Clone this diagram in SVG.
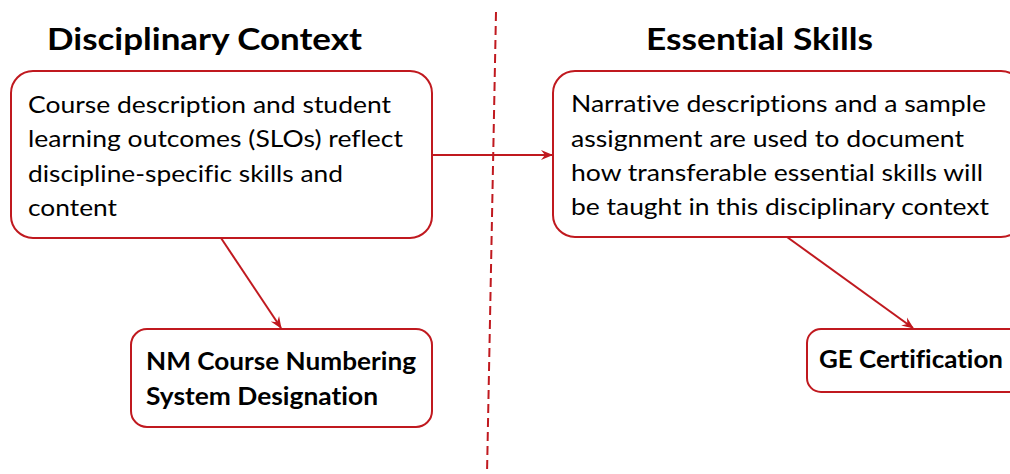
<svg xmlns="http://www.w3.org/2000/svg" width="1010" height="474" viewBox="0 0 1010 474">
<style>
.box{fill:#fff;stroke:#C0191F;stroke-width:2}
text{font-variant-ligatures:none;font-feature-settings:"liga" 0,"clig" 0}
.t{font-family:Lato,"Open Sans",sans-serif;font-size:24px;fill:#000}
.b{font-family:Lato,"Open Sans",sans-serif;font-size:24px;font-weight:bold;fill:#000}
.h{font-family:Lato,"Open Sans",sans-serif;font-size:30px;font-weight:bold;fill:#000}
.c{stroke:#C0191F;stroke-width:2;fill:none}
</style>
<defs>
<marker id="ah" viewBox="0 0 12 12" refX="11" refY="6" markerWidth="12" markerHeight="12" markerUnits="userSpaceOnUse" orient="auto">
<path d="M0,1 L12,6 L0,11 L4,6 Z" fill="#C0191F" stroke="none"/>
</marker>
</defs>
<text class="h" x="47" y="50" textLength="315" lengthAdjust="spacingAndGlyphs">Disciplinary Context</text>
<text class="h" x="646" y="50" textLength="227" lengthAdjust="spacingAndGlyphs">Essential Skills</text>
<g id="connectors">
<line x1="496" y1="12" x2="487" y2="474" stroke="#C0191F" stroke-width="2" stroke-dasharray="9,5"/>
<line class="c" x1="432" y1="155" x2="552" y2="155" marker-end="url(#ah)"/>
<line class="c" x1="221" y1="238" x2="281" y2="328" marker-end="url(#ah)"/>
<line class="c" x1="787" y1="237" x2="913" y2="328" marker-end="url(#ah)"/>
</g>
<g id="node-context">
<rect class="box" x="11" y="71" width="421" height="167" rx="22"/>
<text class="t" x="28" y="113" textLength="363" lengthAdjust="spacingAndGlyphs">Course description and student</text>
<text class="t" x="28" y="147" textLength="375" lengthAdjust="spacingAndGlyphs">learning outcomes (SLOs) reflect</text>
<text class="t" x="28" y="182" textLength="315" lengthAdjust="spacingAndGlyphs">discipline-specific skills and</text>
<text class="t" x="28" y="216" textLength="89" lengthAdjust="spacingAndGlyphs">content</text>
</g>
<g id="node-skills">
<rect class="box" x="553" y="71" width="470" height="166" rx="22"/>
<text class="t" x="571" y="112" textLength="415" lengthAdjust="spacingAndGlyphs">Narrative descriptions and a sample</text>
<text class="t" x="571" y="147" textLength="393" lengthAdjust="spacingAndGlyphs">assignment are used to document</text>
<text class="t" x="571" y="181" textLength="412" lengthAdjust="spacingAndGlyphs">how transferable essential skills will</text>
<text class="t" x="571" y="215" textLength="418" lengthAdjust="spacingAndGlyphs">be taught in this disciplinary context</text>
</g>
<g id="node-nm">
<rect class="box" x="131" y="329" width="301" height="98" rx="16"/>
<text class="b" x="146" y="370" textLength="270" lengthAdjust="spacingAndGlyphs">NM Course Numbering</text>
<text class="b" x="146" y="405" textLength="232" lengthAdjust="spacingAndGlyphs">System Designation</text>
</g>
<g id="node-ge">
<rect class="box" x="807" y="329" width="220" height="63" rx="14"/>
<text class="b" x="819" y="368" textLength="184" lengthAdjust="spacingAndGlyphs">GE Certification</text>
</g>
</svg>
